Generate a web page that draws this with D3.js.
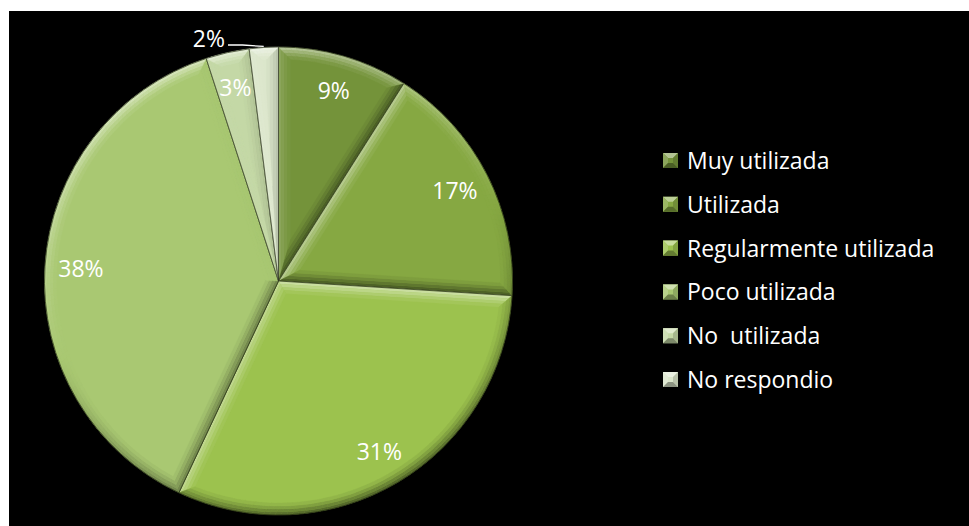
<!DOCTYPE html>
<html>
<head>
<meta charset="utf-8">
<script src="https://cdn.jsdelivr.net/npm/d3@7"></script>
<style>
  html, body { margin: 0; padding: 0; background: #ffffff; }
  svg { display: block; }
  text { font-family: "Open Sans", "Noto Sans", sans-serif; fill: #ffffff; }
</style>
</head>
<body>
<div id="chart"></div>
<script>
// Survey answers and their share of responses (%)
const categories = ["Muy utilizada", "Utilizada", "Regularmente utilizada", "Poco utilizada", "No  utilizada", "No respondio"];
const values = [9, 17, 31, 38, 3, 2];
const labels = ["9%", "17%", "31%", "38%", "3%", "2%"];
const colors = ["#74933a", "#86a842", "#9cc24e", "#a9c872", "#c4d8a6", "#dbe6cb"];

const W = 969, H = 526;
const cx = 278.5, cy = 281, R = 234;
const bevel = [0, 3, 6, 9, 12];           // offsets of the bevel strips
const strength = [1, 0.7, 0.4, 0.15];     // shading strength per strip

const svg = d3.select("#chart").append("svg")
  .attr("width", W).attr("height", H);

svg.append("rect").attr("width", W).attr("height", H).attr("fill", "#ffffff");
svg.append("rect").attr("x", 9).attr("y", 11).attr("width", W - 9).attr("height", H - 11).attr("fill", "#000000");

const pie = d3.pie().sort(null).value(d => d);
const arcs = pie(values);
const arcGen = d3.arc().innerRadius(0).outerRadius(R);
const labelArc = d3.arc().innerRadius(198).outerRadius(198);

// light comes from the upper left
const L = (() => { const x = -0.35, y = -1, n = Math.hypot(x, y); return [x / n, y / n]; })();

function pt(a, r) { return [r * Math.sin(a), -r * Math.cos(a)]; }

function shade(base, s) {
  return s >= 0 ? d3.interpolateRgb(base, "#ffffff")(s * 0.5)
                : d3.interpolateRgb(base, "#000000")(-s * 0.45);
}

// inset outline of a slice at distance d from its edges
function inset(a0, a1, d) {
  const ra = R - d;
  const del = Math.asin(d / ra);
  const mid = (a0 + a1) / 2;
  const V = d === 0 ? [0, 0] : pt(mid, d / Math.sin((a1 - a0) / 2));
  return { V, ra, b0: a0 + del, b1: a1 - del };
}

function poly(points) {
  const p = d3.path();
  points.forEach((q, i) => i ? p.lineTo(q[0], q[1]) : p.moveTo(q[0], q[1]));
  p.closePath();
  return p.toString();
}

const g = svg.append("g").attr("transform", `translate(${cx},${cy})`);

arcs.forEach((a, i) => {
  const base = colors[i];
  const sg = g.append("g");
  sg.append("path").attr("d", arcGen(a)).attr("fill", base);

  for (let k = 0; k < strength.length; k++) {
    const A = inset(a.startAngle, a.endAngle, bevel[k]);
    const B = inset(a.startAngle, a.endAngle, bevel[k + 1]);
    const f = strength[k];

    // face along the starting radial edge
    const n0 = [-Math.cos(a.startAngle), -Math.sin(a.startAngle)];
    const c0 = shade(base, f * (n0[0] * L[0] + n0[1] * L[1]));
    sg.append("path")
      .attr("d", poly([A.V, pt(A.b0, A.ra), pt(B.b0, B.ra), B.V]))
      .attr("fill", c0).attr("stroke", c0).attr("stroke-width", 0.3);

    // face along the ending radial edge
    const n1 = [Math.cos(a.endAngle), Math.sin(a.endAngle)];
    const c1 = shade(base, f * (n1[0] * L[0] + n1[1] * L[1]));
    sg.append("path")
      .attr("d", poly([A.V, B.V, pt(B.b1, B.ra), pt(A.b1, A.ra)]))
      .attr("fill", c1).attr("stroke", c1).attr("stroke-width", 0.3);

    // face along the outer rim, split into short pieces
    const n = Math.max(4, Math.ceil((a.endAngle - a.startAngle) / 0.025));
    for (let j = 0; j < n; j++) {
      const t0 = j / n, t1 = (j + 1) / n;
      const oa0 = A.b0 + (A.b1 - A.b0) * t0, oa1 = A.b0 + (A.b1 - A.b0) * t1;
      const ia0 = B.b0 + (B.b1 - B.b0) * t0, ia1 = B.b0 + (B.b1 - B.b0) * t1;
      const m = (oa0 + oa1) / 2;
      const nr = [Math.sin(m), -Math.cos(m)];
      const col = shade(base, f * (nr[0] * L[0] + nr[1] * L[1]));
      const p = d3.path();
      p.moveTo(...pt(oa0, A.ra));
      p.arc(0, 0, A.ra, oa0 - Math.PI / 2, oa1 - Math.PI / 2, false);
      p.lineTo(...pt(ia1, B.ra));
      p.arc(0, 0, B.ra, ia1 - Math.PI / 2, ia0 - Math.PI / 2, true);
      p.closePath();
      sg.append("path").attr("d", p.toString())
        .attr("fill", col).attr("stroke", col).attr("stroke-width", 0.4);
    }
  }

  sg.append("path").attr("d", arcGen(a))
    .attr("fill", "none")
    .attr("stroke", "rgba(30,38,15,0.75)")
    .attr("stroke-width", 0.9)
    .attr("stroke-linejoin", "round");
});

// percentage labels
arcs.forEach((a, i) => {
  if (i === arcs.length - 1) return;
  const [x, y] = labelArc.centroid(a);
  g.append("text")
    .attr("x", x).attr("y", y).attr("dy", "0.36em")
    .attr("text-anchor", "middle")
    .attr("font-size", 23)
    .text(labels[i]);
});

// smallest slice: label outside with a leader line
{
  const a = arcs[arcs.length - 1];
  const m = (a.startAngle + a.endAngle) / 2;
  const tip = pt(m, R + 1);
  const elbow = [-36, -236];
  const end = [-50.5, -236];
  g.append("path")
    .attr("d", poly([end, elbow, tip]).replace(/Z$/, ""))
    .attr("fill", "none").attr("stroke", "#ffffff").attr("stroke-width", 1.3);
  g.append("text")
    .attr("x", end[0] - 3).attr("y", end[1]).attr("dy", "0.1em")
    .attr("text-anchor", "end")
    .attr("font-size", 23)
    .text(labels[arcs.length - 1]);
}

// legend with bevelled square markers
const legend = svg.append("g").attr("transform", "translate(663,160.5)");
const step = 43.8, s = 15, e = 5;
categories.forEach((c, i) => {
  const row = legend.append("g").attr("transform", `translate(0,${i * step})`);
  const base = colors[i];
  const h = s / 2;
  const faces = [
    { pts: [[-h, -h], [h, -h], [h - e, -h + e], [-h + e, -h + e]], s: 0.9 },   // top
    { pts: [[-h, -h], [-h + e, -h + e], [-h + e, h - e], [-h, h]], s: 0.35 },  // left
    { pts: [[h, -h], [h, h], [h - e, h - e], [h - e, -h + e]], s: -0.35 },     // right
    { pts: [[-h, h], [-h + e, h - e], [h - e, h - e], [h, h]], s: -0.8 }       // bottom
  ];
  row.append("rect").attr("x", 0).attr("y", -h).attr("width", s).attr("height", s).attr("fill", base);
  faces.forEach(f => row.append("path")
    .attr("transform", `translate(${h},0)`)
    .attr("d", poly(f.pts)).attr("fill", shade(base, f.s)));
  row.append("text")
    .attr("x", 24).attr("y", 8.5)
    .attr("font-size", 23)
    .style("white-space", "pre")
    .text(c);
});
</script>
</body>
</html>
